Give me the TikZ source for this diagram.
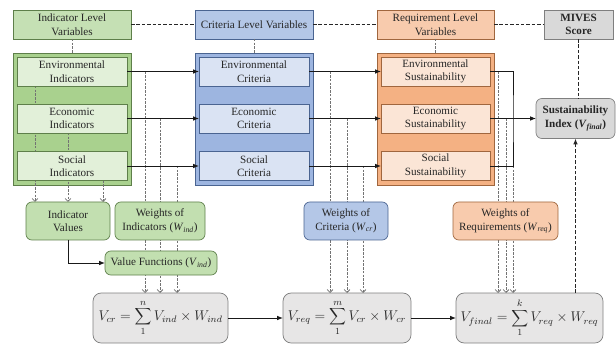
\documentclass[tikz,border=0pt]{standalone}
\usepackage{fontspec}
\setmainfont{Liberation Serif}
\usetikzlibrary{arrows.meta,positioning}

\definecolor{grnHd}{HTML}{C5E0B4}
\definecolor{grnGp}{HTML}{A9D18E}
\definecolor{grnIt}{HTML}{E2F0D9}
\definecolor{grnLn}{HTML}{5E7F4A}
\definecolor{bluHd}{HTML}{B4C7E7}
\definecolor{bluGp}{HTML}{9DB5E0}
\definecolor{bluIt}{HTML}{DAE3F3}
\definecolor{bluLn}{HTML}{4A6491}
\definecolor{orgHd}{HTML}{F8CBAD}
\definecolor{orgGp}{HTML}{F4B183}
\definecolor{orgIt}{HTML}{FBE5D6}
\definecolor{orgLn}{HTML}{A0663E}
\definecolor{gryHd}{HTML}{D9D9D9}
\definecolor{gryIt}{HTML}{E7E6E6}
\definecolor{gryLn}{HTML}{7F7F7F}

\pgfdeclarelayer{back}
\pgfdeclarelayer{mid}
\pgfsetlayers{back,mid,main}

\newcommand{\subvar}[2]{\textit{#1}\textsubscript{\textit{#2}}}

\begin{document}
\begin{tikzpicture}
    [ x=0.03cm, y=-0.03cm
    , font=\fontsize{9.5}{11.5}\selectfont
    , text=black!85
    , sz/.style 2 args={minimum width=#1*0.03cm, minimum height=#2*0.03cm}
    , lvl/.style={draw=#1Ln, fill=#1Hd, sz={118}{29}, align=center, inner sep=1pt, outer sep=0pt, line width=0.6pt}
    , grp/.style={draw=#1Ln, fill=#1Gp, sz={118}{132}, outer sep=0pt, line width=0.6pt}
    , itm/.style={draw=#1Ln, fill=#1It, sz={110}{29}, align=center, inner sep=1pt, outer sep=0pt, line width=0.6pt}
    , wgt/.style={draw=#1Ln, fill=#1Hd, rounded corners=5pt, align=center, inner sep=1pt, outer sep=0pt, line width=0.6pt}
    , frm/.style={draw=gryLn, fill=gryIt, rounded corners=7pt, sz={#1}{50}, outer sep=0pt, line width=0.6pt, font=\fontsize{12}{14}\selectfont}
    , flow/.style={-{Latex[length=5pt,width=4pt]}, line width=0.8pt, black!90}
    , link/.style={dash pattern=on 3pt off 1.6pt, line width=1.1pt, black!85}
    , tie/.style={dash pattern=on 2pt off 1.2pt, line width=0.7pt, black!55}
    , drop/.style={tie, -{Straight Barb[length=2.5pt,width=5pt]}}
    ]
  \useasboundingbox (0,0) rectangle (616,344);

  % level headers
  \node[lvl=grn] (hInd) at (72,24.5) {Indicator Level\\Variables};
  \node[lvl=blu] (hCri) at (254,24.5) {Criteria Level Variables};
  \node[lvl=org, sz={117}{29}] (hReq) at (435.5,24.5) {Requirement Level\\Variables};
  \node[lvl=gry, sz={69}{29}, font=\fontsize{9.5}{11.5}\selectfont\bfseries] (hMiv) at (578.5,24.5) {MIVES\\Score};

  % groups
  \begin{pgfonlayer}{back}
    \node[grp=grn] (gInd) at (72,119) {};
    \node[grp=blu] (gCri) at (254,119) {};
    \node[grp=org, sz={117}{132}] (gReq) at (435.5,119) {};
  \end{pgfonlayer}

  \node[itm=grn] (iEnv) at (72,71.5) {Environmental\\Indicators};
  \node[itm=grn] (iEco) at (72,118.5) {Economic\\Indicators};
  \node[itm=grn] (iSoc) at (72,166) {Social\\Indicators};

  \node[itm=blu] (cEnv) at (254,71.5) {Environmental\\Criteria};
  \node[itm=blu] (cEco) at (254,118.5) {Economic\\Criteria};
  \node[itm=blu] (cSoc) at (254,166) {Social\\Criteria};

  \node[itm=org, sz={109}{29}] (oEnv) at (435.5,71.5) {Environmental\\Sustainability};
  \node[itm=org, sz={109}{29}] (oEco) at (435.5,118.5) {Economic\\Sustainability};
  \node[itm=org, sz={109}{29}] (oSoc) at (435.5,166) {Social\\Sustainability};

  \node[wgt=gry, sz={79}{40}, font=\fontsize{9.5}{11.5}\selectfont\bfseries] (si) at (575.5,118.5)
    {Sustainability\\Index (\subvar{V}{final})};

  % weights and values
  \node[wgt=grn, fill=grnHd!90!grnGp, sz={84}{38}] (ival) at (68,221) {Indicator\\Values};
  \node[wgt=grn, fill=grnHd!90!grnGp, sz={90}{38}] (wInd) at (160,221) {Weights of\\Indicators (\subvar{W}{ind})};
  \node[wgt=grn, fill=grnHd!90!grnGp, sz={112}{24}] (vfun) at (161,263) {Value Functions (\subvar{V}{ind})};
  \node[wgt=blu, sz={84}{38}] (wCri) at (346,221) {Weights of\\Criteria (\subvar{W}{cr})};
  \node[wgt=org, sz={105}{38}] (wReq) at (505.5,221) {Weights of\\Requirements (\subvar{W}{req})};

  % formulas
  \node[frm=135] (fCr) at (160.5,318) {$V_{cr} = \displaystyle\sum_{1}^{n} V_{ind} \times W_{ind}$};
  \node[frm=128] (fReq) at (347,318) {$V_{req} = \displaystyle\sum_{1}^{m} V_{cr} \times W_{cr}$};
  \node[frm=147] (fFin) at (529.5,318) {$V_{final} = \displaystyle\sum_{1}^{k} V_{req} \times W_{req}$};

  % header links
  \draw[link] (hInd) -- (hCri);
  \draw[link] (hCri) -- (hReq);
  \draw[link] (hReq) -- (hMiv);
  \draw[link] (hMiv) -- (hMiv |- si.north);
  \draw[tie] (hInd) -- (gInd);
  \draw[tie] (hCri) -- (gCri);
  \draw[tie] (hReq) -- (gReq);

  % level flows
  \draw[flow] (iEnv) -- (cEnv);
  \draw[flow] (iEco) -- (cEco);
  \draw[flow] (iSoc) -- (cSoc);
  \draw[flow] (cEnv) -- (oEnv);
  \draw[flow] (cEco) -- (oEco);
  \draw[flow] (cSoc) -- (oSoc);
  \coordinate (jn) at (513,118.5);
  \draw[line width=0.8pt, black!90] (oEnv.east) -| (jn) |- (oSoc.east);
  \draw[flow] (oEco) -- (si);
  \draw[flow] (ival.south) |- (vfun.west);
  \draw[flow] (fCr) -- (fReq);
  \draw[flow] (fReq) -- (fFin);
  \draw[link, -{Latex[length=5pt,width=4pt]}] (fFin.north -| si) -- (si.south);

  % dropped lines
  \coordinate (gA) at (35,0);
  \coordinate (gB) at (68,0);
  \coordinate (gC) at (103,0);
  \coordinate (dI1) at (145,71.5);
  \coordinate (dI2) at (160,118.5);
  \coordinate (dI3) at (177,166);
  \coordinate (dC1) at (330,71.5);
  \coordinate (dC2) at (347,118.5);
  \coordinate (dC3) at (363,166);
  \coordinate (dR1) at (498,71.5);
  \coordinate (dR2) at (506,118.5);
  \coordinate (dR3) at (513,166);
  \begin{pgfonlayer}{mid}
    \draw[drop] (iEnv.south -| gA) -- (ival.north -| gA);
    \draw[drop] (iEco.south -| gB) -- (ival.north -| gB);
    \draw[drop] (iSoc.south -| gC) -- (ival.north -| gC);
    \draw[drop] (dI1) -- (dI1 |- fCr.north);
    \draw[drop] (dI2) -- (dI2 |- fCr.north);
    \draw[drop] (dI3) -- (dI3 |- fCr.north);
    \draw[drop] (dC1) -- (dC1 |- fReq.north);
    \draw[drop] (dC2) -- (dC2 |- fReq.north);
    \draw[drop] (dC3) -- (dC3 |- fReq.north);
    \draw[drop] (dR1) -- (dR1 |- fFin.north);
    \draw[drop] (dR2) -- (dR2 |- fFin.north);
    \draw[drop] (dR3) -- (dR3 |- fFin.north);
  \end{pgfonlayer}
\end{tikzpicture}
\end{document}
